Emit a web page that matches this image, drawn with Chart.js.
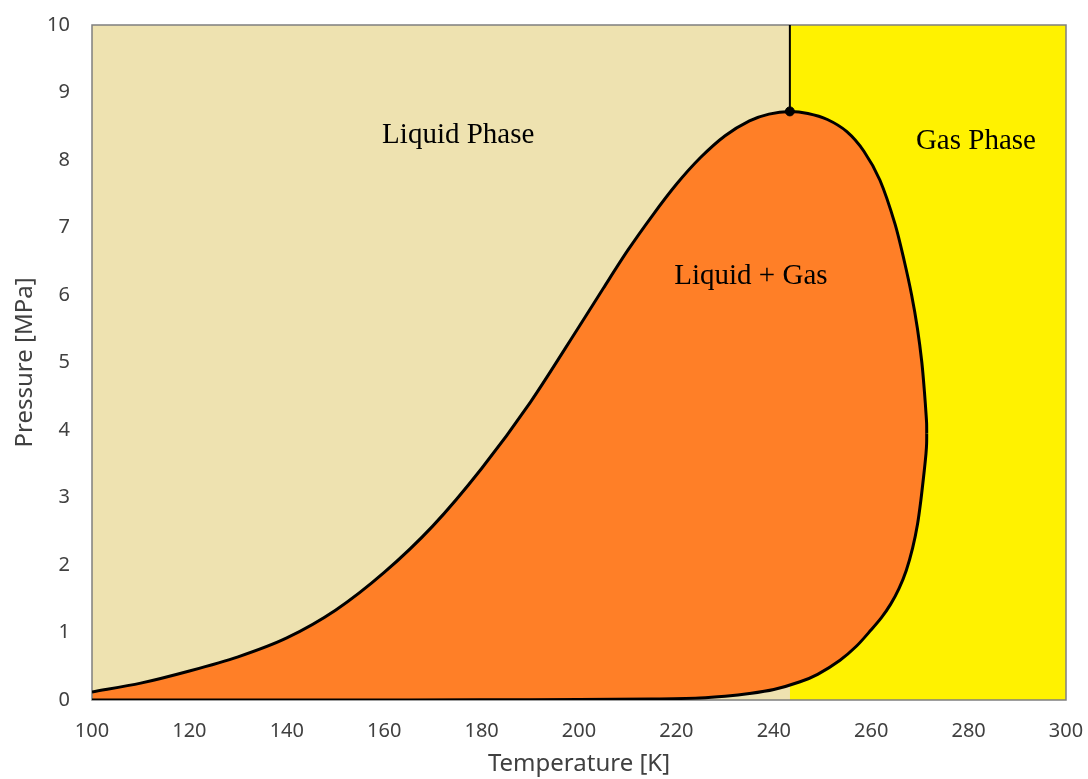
<!DOCTYPE html>
<html>
<head>
<meta charset="utf-8">
<script src="https://cdn.jsdelivr.net/npm/chart.js@4.4.1/dist/chart.umd.min.js"></script>
<style>
  html, body { margin: 0; padding: 0; background: #fff; }
  #wrap { width: 1088px; height: 779px; }
</style>
</head>
<body>
<div id="wrap"><canvas id="phaseChart"></canvas></div>
<script>
// bubble curve (liquid side), T [K] / P [MPa]
var bubbleT = [100, 110, 120, 130, 140, 150, 160, 170, 180, 190, 200, 205, 210, 215, 220, 225, 230, 235, 239, 243.3];
var bubbleP = [0.12, 0.25, 0.43, 0.64, 0.92, 1.33, 1.89, 2.58, 3.43, 4.41, 5.53, 6.1, 6.66, 7.17, 7.64, 8.04, 8.36, 8.58, 8.68, 8.72];

// dew curve, upper branch (critical point -> max temperature)
var dewUpperT = [243.3, 247, 251, 255, 258.5, 261.8, 264.9, 266.8, 268.3, 269.5, 270.4, 270.95, 271.25, 271.38, 271.4];
var dewUpperP = [8.72, 8.69, 8.6, 8.42, 8.13, 7.7, 7.05, 6.5, 6.0, 5.5, 5.0, 4.55, 4.25, 4.1, 3.95];

// dew curve, lower branch (low temperature -> max temperature)
var dewLowerT = [100, 150, 180, 200, 215, 224.8, 230, 235, 240, 245.4, 249, 253.6, 257, 260, 262.1, 264, 265.7, 267.2, 268.5, 269.5, 270.2, 270.9, 271.25, 271.38, 271.4];
var dewLowerP = [0, 0, 0.002, 0.006, 0.015, 0.03, 0.055, 0.095, 0.155, 0.27, 0.38, 0.59, 0.8, 1.04, 1.22, 1.42, 1.65, 1.92, 2.25, 2.6, 2.96, 3.4, 3.65, 3.8, 3.95];

var critical = [243.3, 8.72];

var regionLabels = ["Liquid Phase", "Gas Phase", "Liquid + Gas"];
var regionLabelT = [175.2, 281.5, 235.3];
var regionLabelP = [8.37, 8.28, 6.27];

var Beige = "#EEE2B0";
var Yellow = "#FFF200";
var Orange = "#FF7F27";

function pts(xs, ys) {
    return xs.map(function (x, i) { return {x: x, y: ys[i]}; });
}

var upperCurve = pts(bubbleT, bubbleP).concat(pts(dewUpperT, dewUpperP).slice(1));
var lowerCurve = pts(dewLowerT, dewLowerP);

var frame = {
    id: 'frame',
    beforeDatasetsDraw: function (chart) {
        var a = chart.chartArea, c = chart.ctx;
        c.save();
        c.strokeStyle = '#7f7f7f';
        c.lineWidth = 1.5;
        c.strokeRect(a.left, a.top, a.right - a.left, a.bottom - a.top);
        c.restore();
    },
    afterDatasetsDraw: function (chart) {
        var c = chart.ctx, xs = chart.scales.x, ys = chart.scales.y;
        c.save();
        c.font = '29px "Liberation Serif"';
        c.fillStyle = '#000';
        c.textAlign = 'center';
        c.textBaseline = 'middle';
        regionLabels.forEach(function (t, i) {
            c.fillText(t, xs.getPixelForValue(regionLabelT[i]), ys.getPixelForValue(regionLabelP[i]));
        });
        c.restore();
    }
};

var ctx1 = document.getElementById("phaseChart");

var phaseChart = new Chart(ctx1, {
    type: 'scatter',
    plugins: [frame],
    data: {
        datasets: [
            {
                data: [{x: critical[0], y: critical[1]}],
                pointRadius: 4.5,
                backgroundColor: '#000',
                borderColor: '#000'
            },
            {
                data: [{x: critical[0], y: critical[1]}, {x: critical[0], y: 10}],
                showLine: true,
                pointRadius: 0,
                borderColor: '#000',
                borderWidth: 2
            },
            {
                data: upperCurve,
                showLine: true,
                pointRadius: 0,
                borderColor: '#000',
                borderWidth: 3,
                tension: 0.3,
                fill: {target: 3, above: Orange, below: Orange},
                backgroundColor: Orange
            },
            {
                data: lowerCurve,
                showLine: true,
                pointRadius: 0,
                borderColor: '#000',
                borderWidth: 3,
                tension: 0.3
            },
            {
                data: [{x: critical[0], y: 10}, {x: 300, y: 10}],
                showLine: true,
                pointRadius: 0,
                borderWidth: 0,
                fill: 'origin',
                backgroundColor: Yellow
            },
            {
                data: [{x: 100, y: 10}, {x: 300, y: 10}],
                showLine: true,
                pointRadius: 0,
                borderWidth: 0,
                fill: 'origin',
                backgroundColor: Beige
            }
        ]
    },
    options: {
        responsive: true,
        maintainAspectRatio: false,
        animation: false,
        layout: {
            padding: {top: 25, right: 22, left: 0, bottom: 0}
        },
        plugins: {
            legend: {display: false},
            tooltip: {enabled: false},
            filler: {drawTime: 'beforeDatasetsDraw'}
        },
        scales: {
            x: {
                type: 'linear',
                min: 100,
                max: 300,
                grid: {display: false, drawTicks: false},
                border: {display: false},
                ticks: {
                    stepSize: 20,
                    padding: 19,
                    color: '#404040',
                    font: {family: '"Noto Sans"', size: 20}
                },
                title: {
                    display: true,
                    text: 'Temperature [K]',
                    color: '#404040',
                    font: {family: '"Noto Sans"', size: 24},
                    padding: {top: 6, bottom: 0}
                },
                afterFit: function (s) {
                    s.height = 79;
                    s.paddingLeft = 0;
                    s.paddingRight = 0;
                }
            },
            y: {
                type: 'linear',
                min: 0,
                max: 10,
                grid: {display: false, drawTicks: false},
                border: {display: false},
                ticks: {
                    stepSize: 1,
                    padding: 22,
                    color: '#404040',
                    font: {family: '"Noto Sans"', size: 20}
                },
                title: {
                    display: true,
                    text: 'Pressure [MPa]',
                    color: '#404040',
                    font: {family: '"Noto Sans"', size: 24},
                    padding: {top: 11, bottom: 0}
                },
                afterFit: function (s) {
                    s.width = 92;
                    s.paddingTop = 0;
                    s.paddingBottom = 0;
                }
            }
        }
    }
});
</script>
</body>
</html>
